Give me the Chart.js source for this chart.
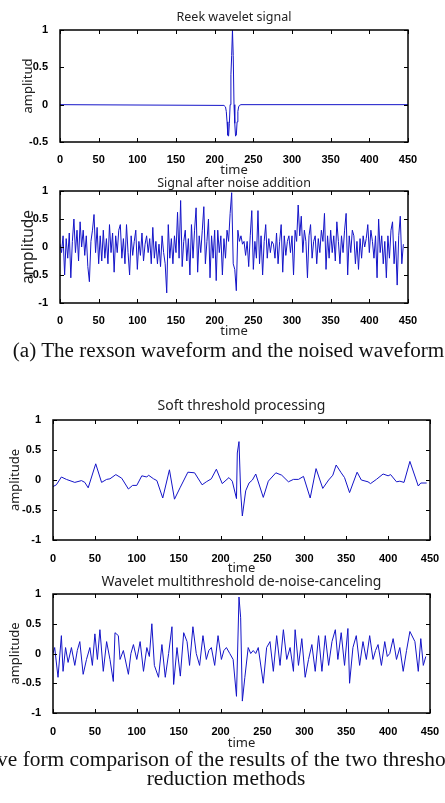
<!DOCTYPE html>
<html>
<head>
<meta charset="utf-8">
<script src="https://cdn.jsdelivr.net/npm/chart.js@4.4.1/dist/chart.umd.min.js"></script>
<style>
  html, body { margin: 0; padding: 0; background: #fff; }
  #page { position: relative; width: 445px; height: 803px; overflow: hidden; }
  canvas { position: absolute; left: 0; }
  .cap { position: absolute; font-family: "Liberation Serif", "Times New Roman", serif; font-size: 21.4px;
         color: #111; text-align: center; white-space: nowrap; }
</style>
</head>
<body>
<div id="page">
  <canvas id="c1" width="445" height="178" style="top:0px"></canvas>
  <canvas id="c2" width="445" height="171" style="top:168px"></canvas>
  <div class="cap" style="left:-99px; width:655px; top:338px; line-height:24px; font-size:21.1px;">(a) The rexson waveform and the noised waveform</div>
  <canvas id="c3" width="445" height="186" style="top:390px"></canvas>
  <canvas id="c4" width="445" height="185" style="top:566px"></canvas>
  <div class="cap" style="left:-100px; width:652px; top:750px; line-height:19px;">(b) Wave form comparison of the results of the two threshold noise<br>reduction methods</div>
</div>
<script>
// x ticks shared by all four panels
const timeTicks = [0, 50, 100, 150, 200, 250, 300, 350, 400, 450];

// (1) Ricker wavelet
const rickerTime = [0, 212, 214, 215, 216, 217, 218, 219, 220, 221, 222, 223, 224, 225, 226, 227, 228, 229, 230, 231, 232, 234, 450];
const rickerAmp  = [0, -0.01, -0.03, -0.09, -0.23, -0.41, -0.42, -0.25, 0.0, 0.4, 0.66, 1.0, 0.66, 0.0, -0.25, -0.42, -0.41, -0.23, -0.09, -0.03, -0.01, 0, 0];

// (2) signal after noise addition, one reading every 2 time units
const NOISE_STEP = 2;
const noiseAmp = [
  0.05, -0.1, 0.2, -0.5, 0.15, -0.2, 0.25, -0.55, 0.1, 0.5,
  -0.1, 0.3, -0.25, 0.45, 0.0, 0.3, -0.15, 0.2, -0.35, -0.62,
  0.1, 0.3, 0.58, -0.1, 0.35, -0.3, 0.2, -0.25, 0.3, -0.2,
  0.15, -0.3, 0.4, -0.1, 0.25, -0.45, 0.2, -0.1, 0.3, 0.4,
  -0.2, 0.15, -0.3, 0.4, -0.1, -0.5, 0.2, -0.15, 0.1, 0.3,
  -0.4, 0.1, -0.15, 0.25, -0.25, 0.05, 0.2, -0.1, 0.15, -0.3,
  0.35, -0.2, 0.1, -0.3, 0.05, -0.35, 0.2, -0.1, -0.3, -0.82,
  0.4, -0.2, 0.15, -0.3, 0.2, -0.1, 0.62, -0.2, 0.83, -0.35,
  0.1, 0.3, -0.25, 0.15, -0.5, 0.4, -0.2, 0.3, 0.7, -0.45,
  0.2, -0.1, 0.3, 0.72, -0.3, 0.1, 0.5, -0.55, 0.2, -0.2,
  0.3, -0.6, 0.3, -0.1, 0.2, -0.5, 0.15, -0.2, 0.3, 0.1,
  0.6, 0.97, -0.3, -0.4, -0.78, 0.3, 0.1, 0.2, 0.05, 0.1,
  -0.15, 0.1, -0.35, 0.2, 0.65, -0.4, 0.1, -0.2, 0.65, -0.3,
  0.2, -0.5, 0.1, 0.4, -0.2, 0.15, -0.1, 0.1, 0.05, -0.2,
  0.25, -0.3, 0.1, 0.4, -0.45, 0.2, -0.15, 0.1, 0.2, -0.1,
  0.2, -0.5, 0.3, 0.1, 0.75, 0.2, 0.55, -0.1, 0.3, 0.1,
  -0.55, 0.2, 0.4, -0.2, 0.1, 0.2, -0.3, 0.15, -0.1, 0.3,
  0.1, 0.6, -0.4, 0.2, -0.2, 0.3, -0.1, 0.2, -0.25, 0.45,
  0.1, -0.3, 0.2, -0.1, 0.3, 0.6, -0.5, 0.2, -0.1, 0.3,
  0.2, -0.3, 0.1, -0.4, 0.15, -0.2, 0.2, 0.0, 0.15, 0.4,
  -0.1, 0.3, 0.1, -0.2, 0.2, -0.55, 0.5, -0.1, 0.2, -0.3,
  0.1, -0.55, 0.2, -0.2, 0.3, 0.45, -0.3, 0.1, -0.68, 0.2,
  0.55, -0.3, 0.05
];
const noiseTime = noiseAmp.map((_, i) => i * NOISE_STEP);

// (3) soft threshold result, corner points of the polyline
const softTime = [0, 4, 10, 16, 26, 34, 38, 42, 51, 58, 64, 68, 75, 82, 90, 95, 100, 106, 112, 114, 120, 124, 131, 139, 145, 152,
  161, 169, 178, 183, 189, 195, 202, 210, 214, 219, 220, 222, 224, 226, 230, 234, 238, 242, 251, 257, 266, 273, 281, 287, 293,
  299, 307, 314, 322, 329, 334, 338, 344, 348, 354, 363, 368, 376, 379, 386, 394, 400, 403, 410, 414, 419, 426, 436, 439, 446];
const softAmp = [-0.11, -0.08, 0.05, 0.01, -0.04, -0.01, -0.04, -0.13, 0.27, -0.04, 0.01, 0.02, 0.09, 0.03, -0.15, -0.09, -0.09,
  0.07, 0.05, 0.08, 0.02, -0.01, -0.3, 0.17, -0.32, -0.12, 0.13, 0.12, -0.08, -0.03, 0.02, 0.18, -0.06, 0.04, -0.02, -0.31, 0.45,
  0.64, -0.2, -0.6, -0.18, -0.05, 0.0, 0.1, -0.29, -0.02, 0.12, 0.08, -0.03, 0.01, 0.01, 0.06, -0.3, 0.19, -0.14, 0.0, 0.08,
  0.25, 0.12, 0.04, -0.21, 0.13, 0.0, -0.03, -0.06, 0.01, 0.1, 0.07, 0.09, -0.03, -0.02, -0.04, 0.31, -0.1, -0.05, -0.05];

// (4) wavelet multithreshold result, peaks and troughs
const multiTime = [0, 2, 6, 10, 12, 15, 18, 22, 26, 29, 32, 36, 40, 44, 47, 50, 53, 56, 60, 64, 68, 72, 74, 78, 80, 84, 90, 93,
  96, 100, 104, 108, 112, 115, 118, 121, 126, 130, 134, 138, 142, 144, 148, 152, 156, 160, 163, 167, 171, 175, 179, 183, 186,
  189, 193, 197, 201, 204, 207, 211, 215, 219, 222, 224, 226, 229, 233, 236, 239, 242, 245, 251, 255, 259, 263, 267, 271, 275,
  279, 283, 287, 289, 293, 297, 301, 305, 309, 313, 317, 321, 325, 329, 333, 337, 340, 344, 348, 352, 354, 358, 362, 366, 370,
  374, 378, 382, 385, 388, 392, 396, 399, 402, 406, 410, 414, 418, 422, 426, 432, 436, 439, 442, 445];
const multiAmp = [0.0, 0.1, -0.4, 0.3, -0.3, 0.1, -0.15, 0.1, -0.2, 0.05, 0.2, -0.35, -0.1, 0.1, -0.2, 0.33, -0.1, 0.4, -0.3,
  0.2, -0.1, -0.47, 0.35, 0.3, -0.1, 0.05, -0.35, 0.0, 0.15, -0.1, 0.2, -0.3, 0.1, -0.05, 0.5, -0.2, -0.4, 0.15, -0.4, 0.0, 0.45,
  -0.52, 0.1, -0.38, 0.35, 0.2, -0.2, 0.45, 0.0, -0.2, 0.3, -0.1, 0.05, 0.1, -0.2, 0.3, -0.1, 0.05, 0.1, 0.0, -0.1, -0.72, 0.95,
  0.6, -0.8, -0.4, 0.1, 0.0, 0.05, 0.0, 0.1, -0.5, 0.1, 0.2, -0.3, 0.3, -0.2, 0.4, -0.1, 0.1, -0.3, 0.4, -0.2, 0.25, -0.4, -0.1,
  0.15, -0.3, 0.3, -0.3, 0.3, -0.2, 0.2, 0.4, -0.1, 0.35, -0.2, 0.42, -0.5, 0.1, 0.3, -0.2, 0.2, -0.1, 0.3, -0.1, 0.05, 0.15,
  -0.2, 0.2, -0.05, 0.0, 0.25, -0.1, 0.1, -0.3, 0.05, 0.37, 0.2, -0.3, 0.25, -0.2, -0.05];

// inward MATLAB style ticks and the black box round the plot
const boxTicks = {
  id: 'boxTicks',
  afterDatasetsDraw(chart) {
    const { ctx, chartArea: a, scales: { x, y } } = chart;
    ctx.save();
    ctx.strokeStyle = '#000';
    ctx.lineWidth = 1;
    ctx.beginPath();
    x.ticks.forEach(t => {
      const px = Math.round(x.getPixelForValue(t.value)) + 0.5;
      ctx.moveTo(px, a.bottom); ctx.lineTo(px, a.bottom - 4);
      ctx.moveTo(px, a.top); ctx.lineTo(px, a.top + 4);
    });
    y.ticks.forEach(t => {
      const py = Math.round(y.getPixelForValue(t.value)) + 0.5;
      ctx.moveTo(a.left, py); ctx.lineTo(a.left + 4, py);
      ctx.moveTo(a.right, py); ctx.lineTo(a.right - 4, py);
    });
    ctx.stroke();
    ctx.lineWidth = 1.5;
    ctx.strokeRect(a.left, a.top, a.right - a.left, a.bottom - a.top);
    ctx.restore();
  }
};

const textFont = '"Noto Sans", "DejaVu Sans", sans-serif';
const tickFont = { family: '"Liberation Sans", Arial, sans-serif', size: 11, weight: 'bold' };

function makePanel(id, p) {
  const points = p.time.map((t, i) => ({ x: t, y: p.amp[i] }));
  return new Chart(document.getElementById(id), {
    type: 'line',
    data: {
      datasets: [{
        data: points,
        borderColor: '#1414c8',
        borderWidth: 1,
        pointRadius: 0,
        tension: 0,
        fill: false
      }]
    },
    options: {
      responsive: false,
      animation: false,
      layout: { padding: { left: 0, right: p.right, top: 0, bottom: 0 } },
      plugins: {
        legend: { display: false },
        tooltip: { enabled: false },
        title: {
          display: true,
          text: p.title,
          fullSize: false,
          color: '#222',
          font: { family: textFont, size: p.titleSize, weight: 'normal' },
          padding: p.titlePad
        }
      },
      scales: {
        x: {
          type: 'linear',
          min: 0, max: 450,
          afterBuildTicks: s => { s.ticks = timeTicks.map(v => ({ value: v })); },
          afterFit: s => { s.height = p.xHeight; },
          grid: { display: false },
          border: { display: false },
          ticks: { autoSkip: false, maxRotation: 0, color: '#000', font: tickFont, padding: p.xTickPad },
          title: { display: true, text: 'time', color: '#222', font: { family: textFont, size: 13 }, padding: { top: 0, bottom: p.xTitleBottom } }
        },
        y: {
          min: p.ymin, max: 1,
          ticks: { stepSize: 0.5, color: '#000', font: tickFont, padding: 4, callback: v => String(v) },
          afterFit: s => { s.width = p.left; },
          grid: { display: false },
          border: { display: false },
          title: { display: true, text: p.yTitle, color: '#222', font: { family: textFont, size: p.yTitleSize }, padding: { top: p.yTitlePad, bottom: 0 } }
        }
      }
    },
    plugins: [boxTicks]
  });
}

makePanel('c1', {
  time: rickerTime, amp: rickerAmp, title: 'Reek wavelet signal', titleSize: 12.5,
  titlePad: { top: 9.5, bottom: 5.5 }, ymin: -0.5, left: 60, right: 37, xHeight: 36, xTickPad: 3, xTitleBottom: 0,
  yTitle: 'amplitud', yTitleSize: 13, yTitlePad: 20
});
makePanel('c2', {
  time: noiseTime, amp: noiseAmp, title: 'Signal after noise addition', titleSize: 12.5,
  titlePad: { top: 7.5, bottom: 0.5 }, ymin: -1, left: 60, right: 37, xHeight: 36, xTickPad: 3, xTitleBottom: 0,
  yTitle: 'amplitude', yTitleSize: 15.5, yTitlePad: 19.5
});
makePanel('c3', {
  time: softTime, amp: softAmp, title: 'Soft threshold processing', titleSize: 14,
  titlePad: { top: 7.6, bottom: 5.6 }, ymin: -1, left: 53, right: 15, xHeight: 36, xTickPad: 4, xTitleBottom: 0,
  yTitle: 'amplitude', yTitleSize: 13, yTitlePad: 7.2
});
makePanel('c4', {
  time: multiTime, amp: multiAmp, title: 'Wavelet multithreshold de-noise-canceling', titleSize: 14,
  titlePad: { top: 7.6, bottom: 3.6 }, ymin: -1, left: 53, right: 15, xHeight: 38, xTickPad: 4, xTitleBottom: 0.2,
  yTitle: 'amplitude', yTitleSize: 13, yTitlePad: 7.2
});
</script>
</body>
</html>
